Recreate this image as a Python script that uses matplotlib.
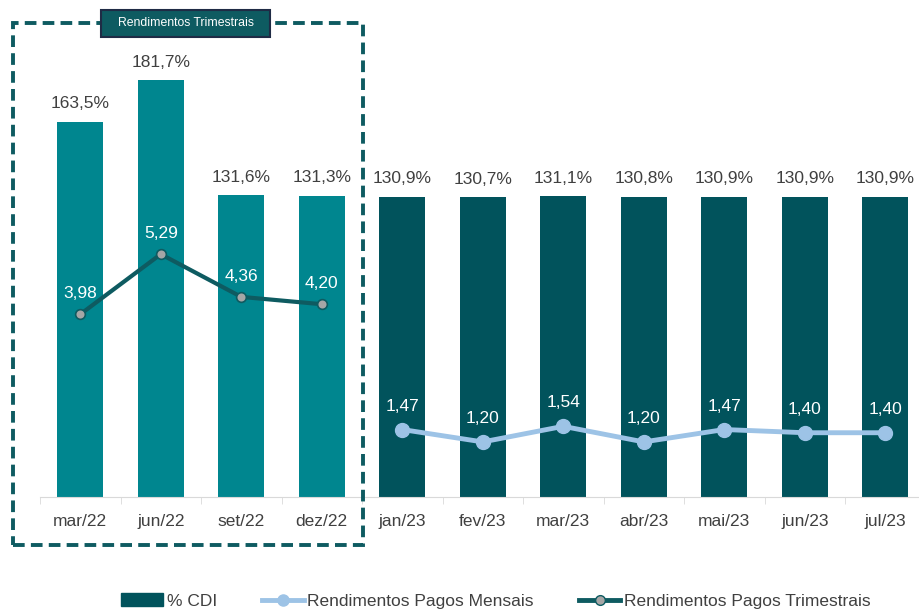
import matplotlib
matplotlib.use("Agg")
import matplotlib.pyplot as plt
from matplotlib.patches import Rectangle
from matplotlib.lines import Line2D
from matplotlib.patches import Patch

plt.rcParams['font.family'] = ['Liberation Sans', 'DejaVu Sans']

categories = ["mar/22", "jun/22", "set/22", "dez/22", "jan/23", "fev/23", "mar/23",
              "abr/23", "mai/23", "jun/23", "jul/23"]
cdi = [163.5, 181.7, 131.6, 131.3, 130.9, 130.7, 131.1, 130.8, 130.9, 130.9, 130.9]
trimestrais_idx = [0, 1, 2, 3]
trimestrais = [3.98, 5.29, 4.36, 4.20]
mensais_idx = [4, 5, 6, 7, 8, 9, 10]
mensais = [1.47, 1.20, 1.54, 1.20, 1.47, 1.40, 1.40]

C_LIGHT_BAR = "#00868F"
C_DARK_BAR = "#01535C"
C_DARK_LINE = "#0E5B61"
C_LIGHT_LINE = "#9DC3E6"
C_TEXT = "#404040"
FS = 12.5

W, H = 919, 610
fig = plt.figure(figsize=(W/100, H/100), dpi=100)
ax = fig.add_axes([40/W, (H-497)/H, 885.5/W, (497-38)/H])
ax2 = ax.twinx()

x = list(range(len(categories)))
colors = [C_LIGHT_BAR if i < 4 else C_DARK_BAR for i in x]
ax.bar(x, cdi, width=0.57, color=colors, zorder=2)
for xi, v in zip(x, cdi):
    ax.annotate(f"{v:.1f}%".replace(".", ","), (xi, v), xytext=(0, 7.5),
                textcoords="offset points", ha="center", va="bottom",
                fontsize=FS, color=C_TEXT)

ax.set_ylim(0, 200)
ax.set_xlim(-0.5, 10.5)
ax2.set_ylim(0, 10)

ax2.plot(trimestrais_idx, trimestrais, color=C_DARK_LINE, lw=3, marker="o",
         markersize=7, markerfacecolor="#A6A6A6", markeredgecolor=C_DARK_LINE,
         markeredgewidth=1.2, zorder=3)
for xi, v in zip(trimestrais_idx, trimestrais):
    ax2.annotate(f"{v:.2f}".replace(".", ","), (xi, v), xytext=(0, 9.5),
                 textcoords="offset points", ha="center", va="bottom",
                 fontsize=FS, color="white")

ax2.plot(mensais_idx, mensais, color=C_LIGHT_LINE, lw=3.5, marker="o",
         markersize=10, markerfacecolor=C_LIGHT_LINE, markeredgecolor=C_LIGHT_LINE,
         zorder=3)
for xi, v in zip(mensais_idx, mensais):
    ax2.annotate(f"{v:.2f}".replace(".", ","), (xi, v), xytext=(0, 11.5),
                 textcoords="offset points", ha="center", va="bottom",
                 fontsize=FS, color="white")

for a in (ax, ax2):
    for s in ["top", "right", "left"]:
        a.spines[s].set_visible(False)
    a.set_yticks([])
ax.spines["bottom"].set_color("#D9D9D9")
ax2.spines["bottom"].set_visible(False)
ax.set_xticks(x)
ax.set_xticklabels(categories, fontsize=FS, color=C_TEXT)
ax.tick_params(axis="x", which="major", length=0, pad=12)
ax.set_xticks([i - 0.5 for i in range(len(categories) + 1)], minor=True)
ax.tick_params(axis="x", which="minor", length=5, color="#D9D9D9")

# dashed frame
fig.patches.append(Rectangle((13/W, (H-545)/H), 350/W, 522/H, transform=fig.transFigure,
                             fill=False, edgecolor=C_DARK_LINE, lw=2.8,
                             linestyle=(0, (3, 1.6)), zorder=5))
fig.patches.append(Rectangle((101/W, (H-37)/H), 169/W, 27/H, transform=fig.transFigure,
                             facecolor=C_DARK_LINE, edgecolor="#1F2B45", lw=1.5, zorder=6))
fig.text(185.5/W, (H-23.5)/H, "Rendimentos Trimestrais", ha="center", va="center",
         fontsize=8.8, color="white", zorder=7)

handles = [Patch(color=C_DARK_BAR),
           Line2D([], [], color=C_LIGHT_LINE, lw=3.5, marker="o", markersize=8,
                  markerfacecolor=C_LIGHT_LINE, markeredgecolor=C_LIGHT_LINE),
           Line2D([], [], color=C_DARK_LINE, lw=3.5, marker="o", markersize=7,
                  markerfacecolor="#A6A6A6", markeredgecolor=C_DARK_LINE)]
labels = ["% CDI", "Rendimentos Pagos Mensais", "Rendimentos Pagos Trimestrais"]
leg = fig.legend(handles, labels, loc="center", bbox_to_anchor=(496/W, (H-601)/H),
                 ncol=3, frameon=False, fontsize=FS, handlelength=2.4,
                 handletextpad=0.2, columnspacing=2.6)
for t in leg.get_texts():
    t.set_color(C_TEXT)

fig.savefig("out.png", dpi=100)
